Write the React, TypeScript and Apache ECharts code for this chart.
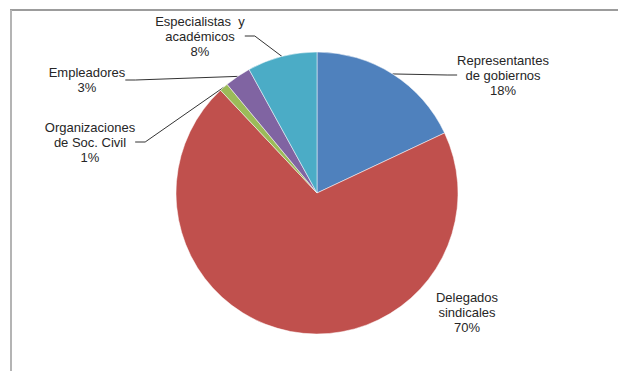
import React, { useEffect, useRef } from "react";
import * as echarts from "echarts";

// Participant groups, in clockwise order from 12 o'clock
const categories = [
  "Representantes\nde gobiernos",
  "Delegados\nsindicales",
  "Organizaciones\nde Soc. Civil",
  "Empleadores",
  "Especialistas  y\nacadémicos",
];
const shares = [18, 70, 1, 3, 8];
const colors = ["#4F81BD", "#C0504D", "#9BBB59", "#8064A2", "#4BACC6"];
// where each label block sits (centre point, px)
const labelSpots: [number, number][] = [
  [503, 75],
  [467, 312],
  [90, 142],
  [87, 80],
  [200, 36],
];
const showLeader = [true, false, true, true, true];

export default function App() {
  const ref = useRef<HTMLDivElement>(null);

  useEffect(() => {
    if (!ref.current) return;
    const chart = echarts.init(ref.current, null, { renderer: "svg" });
    chart.setOption({
      animation: false,
      backgroundColor: "#ffffff",
      graphic: [
        {
          type: "line",
          shape: { x1: 10, y1: 10, x2: 618, y2: 10 },
          style: { stroke: "#9c9c9c", lineWidth: 2 },
        },
        {
          type: "line",
          shape: { x1: 11, y1: 10, x2: 11, y2: 371 },
          style: { stroke: "#b4b4b4", lineWidth: 2 },
        },
      ],
      series: [
        {
          type: "pie",
          center: [317, 193],
          radius: [0, 141],
          startAngle: 90,
          clockwise: true,
          label: {
            show: true,
            fontFamily: "Liberation Sans, Arial, sans-serif",
            fontSize: 13,
            lineHeight: 15,
            color: "#262626",
            align: "center",
            formatter: (p: any) => `${p.name}\n${p.value}%`,
          },
          labelLine: {
            show: true,
            length: 12,
            length2: 10,
            lineStyle: { color: "#333333", width: 1 },
          },
          labelLayout: (p: any) => {
            const [x, y] = labelSpots[p.dataIndex];
            return { x, y, align: "center", verticalAlign: "middle" };
          },
          itemStyle: { borderColor: "#ffffff", borderWidth: 0.5 },
          emphasis: { disabled: true },
          data: categories.map((name, i) => ({
            name,
            value: shares[i],
            itemStyle: { color: colors[i] },
            labelLine: { show: showLeader[i] },
          })),
        },
      ],
    });
    return () => chart.dispose();
  }, []);

  return (
    <div
      ref={ref}
      style={{ position: "fixed", left: 0, top: 0, width: 618, height: 371 }}
    />
  );
}
